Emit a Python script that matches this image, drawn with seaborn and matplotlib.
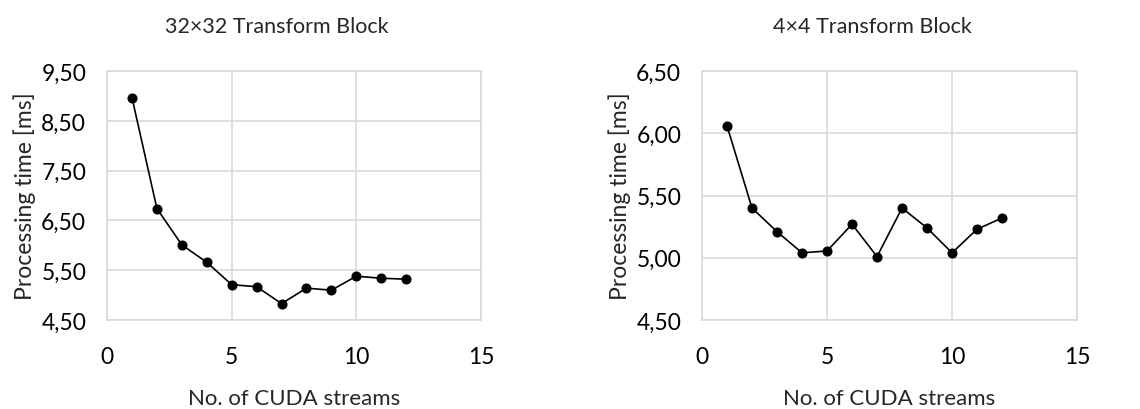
import pandas as pd
import seaborn as sns
import matplotlib
matplotlib.use('Agg')
import matplotlib.pyplot as plt
from matplotlib.ticker import FuncFormatter

# Data
streams = [1, 2, 3, 4, 5, 6, 7, 8, 9, 10, 11, 12]
time_32x32 = [8.97, 6.74, 6.01, 5.66, 5.21, 5.17, 4.83, 5.14, 5.10, 5.38, 5.34, 5.32]
time_4x4 = [6.06, 5.40, 5.21, 5.04, 5.055, 5.27, 5.01, 5.40, 5.24, 5.04, 5.23, 5.32]

titles = ['32×32 Transform Block', '4×4 Transform Block']
y_ticks_left = [4.5, 5.5, 6.5, 7.5, 8.5, 9.5]
y_ticks_right = [4.5, 5.0, 5.5, 6.0, 6.5]
x_ticks = [0, 5, 10, 15]

sns.set_style('white')
plt.rcParams['font.family'] = ['Lato', 'DejaVu Sans']

fig = plt.figure(figsize=(11.4, 4.1), dpi=100)
ax1 = fig.add_axes([0.0939, 0.217, 0.328, 0.607])
ax2 = fig.add_axes([0.6158, 0.217, 0.329, 0.607])

comma_fmt = FuncFormatter(lambda v, p: f'{v:.2f}'.replace('.', ','))

for ax, vals, title, yt in [(ax1, time_32x32, titles[0], y_ticks_left),
                            (ax2, time_4x4, titles[1], y_ticks_right)]:
    df = pd.DataFrame({'streams': streams, 'time': vals})
    sns.lineplot(data=df, x='streams', y='time', ax=ax, color='black',
                 marker='o', markersize=6.5, linewidth=1.2,
                 markeredgecolor='black', zorder=3)
    ax.set_xlim(0, 15)
    ax.set_ylim(yt[0], yt[-1])
    ax.set_xticks(x_ticks)
    ax.set_yticks(yt)
    ax.yaxis.set_major_formatter(comma_fmt)
    ax.grid(True, color='#d9d9d9', linewidth=1.2)
    for s in ax.spines.values():
        s.set_color('#d9d9d9')
        s.set_linewidth(1.2)
    ax.tick_params(length=0, labelsize=16.5, colors='#000000')
    ax.tick_params(axis='x', pad=19)
    ax.tick_params(axis='y', pad=15)
    ax.set_title(title, fontsize=15.5, x=0.455, pad=28)
    ax.set_xlabel('No. of CUDA streams', fontsize=16, labelpad=15)
    ax.set_ylabel('Processing time [ms]', fontsize=16.5, labelpad=4)

fig.savefig('out.png', dpi=100)
